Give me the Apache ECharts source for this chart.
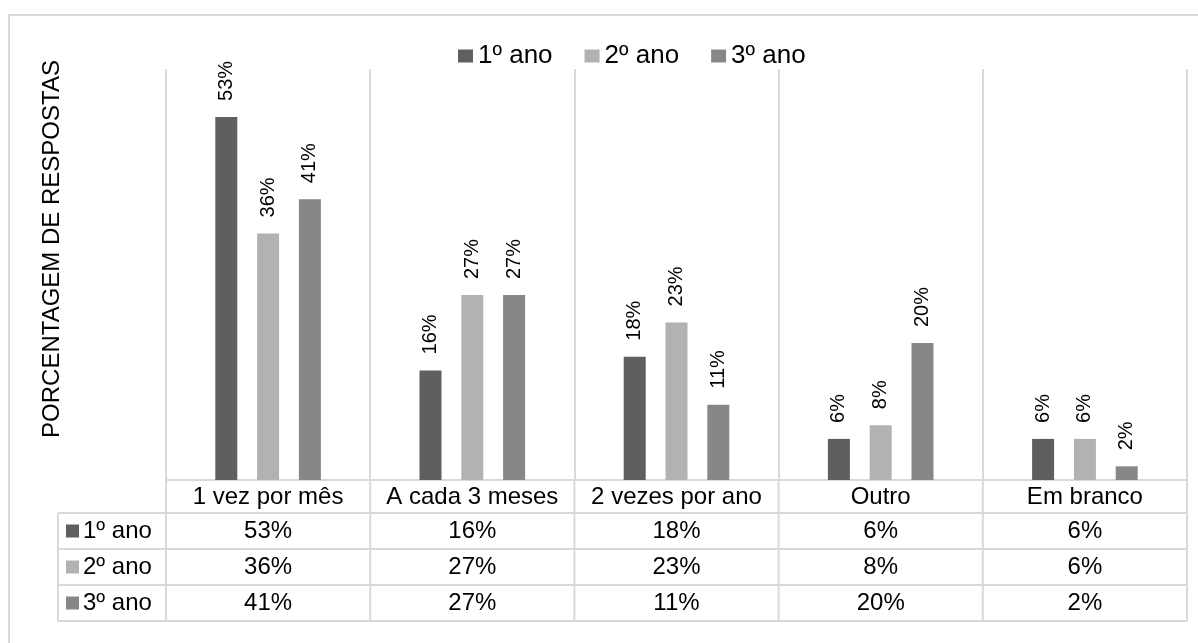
<!DOCTYPE html>
<html><head><meta charset="utf-8">
<script src="https://cdn.jsdelivr.net/npm/echarts@6/dist/echarts.min.js"></script>
<style>html,body{margin:0;padding:0;background:#fff}#c{width:1198px;height:643px}</style>
</head><body><div id="c"></div>
<script>
// ---- data ----
const categories = ['1 vez por mês', 'A cada 3 meses', '2 vezes por ano', 'Outro', 'Em branco'];
const seriesNames = ['1º ano', '2º ano', '3º ano'];
const ano1 = [53, 16, 18, 6, 6];
const ano2 = [36, 27, 23, 8, 6];
const ano3 = [41, 27, 11, 20, 2];
const yAxisTitle = 'PORCENTAGEM DE RESPOSTAS';
const yMin = 0, yMax = 60;

// ---- style ----
const colors = ['#5f5f5f', '#b2b2b2', '#878787'];
const FONT = "'Liberation Sans', Arial, sans-serif";
const LINE = '#d9d9d9';
const TXT = '#000000';
const values = [ano1, ano2, ano3];

const chart = echarts.init(document.getElementById('c'), null, {renderer: 'canvas'});

const series = seriesNames.map((name, s) => ({
  name: name,
  type: 'bar',
  data: values[s],
  barWidth: 22,
  barGap: '90%',
  itemStyle: {color: colors[s]},
  label: {
    show: true, position: 'top', rotate: 90, align: 'left', verticalAlign: 'middle',
    distance: 16, formatter: '{c}%', fontSize: 20, color: TXT, fontFamily: FONT
  }
}));

const option = {
  animation: false,
  backgroundColor: '#ffffff',
  textStyle: {fontFamily: FONT},
  grid: {left: 166, right: 11, top: 69, bottom: 163},
  legend: {
    data: seriesNames, top: 38, left: 453, itemWidth: 15, itemHeight: 13, itemGap: 32,
    icon: 'rect',
    textStyle: {fontSize: 26, color: TXT, fontFamily: FONT}
  },
  xAxis: {
    type: 'category', data: categories,
    axisTick: {show: false},
    axisLine: {show: true, lineStyle: {color: LINE, width: 2}},
    splitLine: {show: true, lineStyle: {color: LINE, width: 2}},
    axisLabel: {interval: 0, fontSize: 24, color: TXT, fontFamily: FONT, margin: 5}
  },
  yAxis: {
    type: 'value', min: yMin, max: yMax,
    axisLine: {show: false}, axisTick: {show: false}, axisLabel: {show: false},
    splitLine: {show: false}
  },
  series: series
};
chart.setOption(option);

// ---- data table drawn beneath the axis, aligned to the category scale ----
function buildTable() {
  const c0 = chart.convertToPixel({xAxisIndex: 0}, 0);
  const c1 = chart.convertToPixel({xAxisIndex: 0}, 1);
  const bw = c1 - c0;
  const base = chart.convertToPixel({yAxisIndex: 0}, yMin);
  const headerH = 33, rowH = 36;
  const leftX = 58;
  const xStart = c0 - bw / 2;
  const xEnd = chart.convertToPixel({xAxisIndex: 0}, categories.length - 1) + bw / 2;
  const rowTop = base + headerH;
  const tableBottom = rowTop + rowH * seriesNames.length;
  const g = [];
  const ls = {stroke: LINE, lineWidth: 2};
  // outer frame
  g.push({type: 'rect', silent: true, shape: {x: 9, y: 15, width: 1200, height: 700},
          style: {fill: null, stroke: LINE, lineWidth: 2}});
  // vertical lines
  for (let i = 0; i <= categories.length; i++) {
    const x = xStart + i * bw;
    g.push({type: 'line', silent: true, shape: {x1: x, y1: base, x2: x, y2: tableBottom}, style: ls});
  }
  g.push({type: 'line', silent: true, shape: {x1: leftX, y1: rowTop, x2: leftX, y2: tableBottom}, style: ls});
  // horizontal lines
  for (let r = 0; r <= seriesNames.length; r++) {
    const y = rowTop + r * rowH;
    g.push({type: 'line', silent: true, shape: {x1: leftX, y1: y, x2: xEnd, y2: y}, style: ls});
  }
  // rows
  seriesNames.forEach((name, s) => {
    const cy = rowTop + s * rowH + rowH / 2;
    g.push({type: 'rect', silent: true, shape: {x: leftX + 8, y: cy - 6.5, width: 13, height: 13},
            style: {fill: colors[s]}});
    g.push({type: 'text', silent: true, x: leftX + 25, y: cy,
            style: {text: name, fontSize: 24, fontFamily: FONT, fill: TXT, align: 'left', verticalAlign: 'middle'}});
    values[s].forEach((v, i) => {
      const cx = chart.convertToPixel({xAxisIndex: 0}, i);
      g.push({type: 'text', silent: true, x: cx, y: cy,
              style: {text: v + '%', fontSize: 24, fontFamily: FONT, fill: TXT, align: 'center', verticalAlign: 'middle'}});
    });
  });
  // y axis title
  g.push({type: 'text', silent: true, x: 52, y: 249, rotation: Math.PI / 2,
          style: {text: yAxisTitle, fontSize: 24, fontFamily: FONT, fill: TXT, align: 'center', verticalAlign: 'middle'}});
  chart.setOption({graphic: g});
}
buildTable();
</script></body></html>
